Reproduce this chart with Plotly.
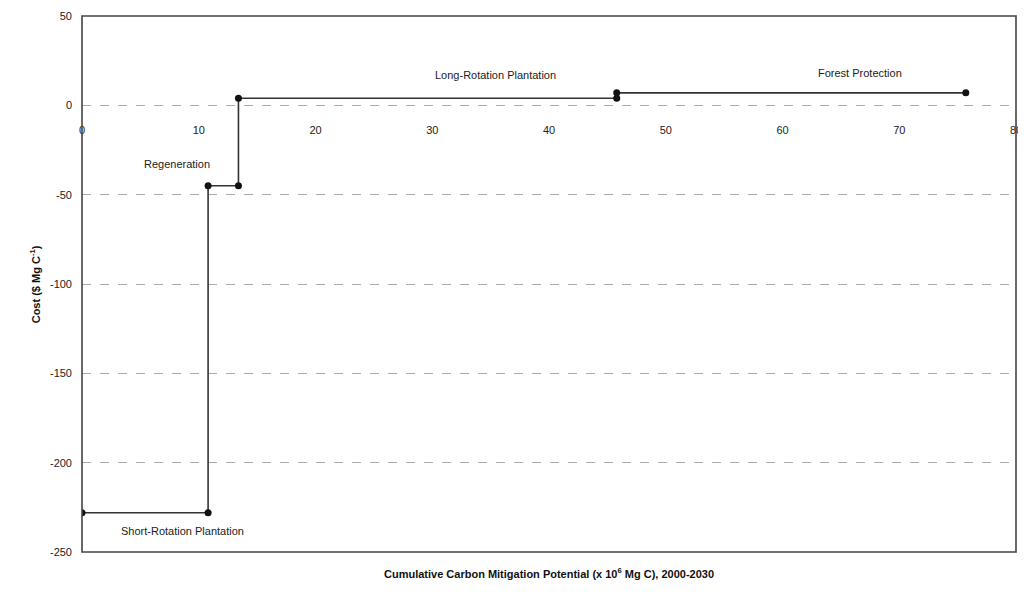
import plotly.graph_objects as go

# Step-curve vertices (cumulative potential, cost)
cum_potential = [0, 10.8, 10.8, 13.4, 13.4, 45.8, 45.8, 75.7]
cost = [-228, -228, -45, -45, 4, 4, 7, 7]

# Option labels and their positions
option_labels = ["Short-Rotation Plantation", "Regeneration", "Long-Rotation Plantation", "Forest Protection"]
label_x = [8.6, 8.1, 35.4, 66.6]
label_y = [-238, -33, 17, 18]

x_ticks = [0, 10, 20, 30, 40, 50, 60, 70, 80]
y_ticks = [50, 0, -50, -100, -150, -200, -250]
y_min, y_max = -250, 50

font_family = "Liberation Sans, Arial, sans-serif"

fig = go.Figure()
fig.add_trace(go.Scatter(
    x=cum_potential, y=cost, mode="lines+markers",
    line=dict(color="#333333", width=1.6),
    marker=dict(color="#111111", size=7),
    showlegend=False, hoverinfo="x+y",
))

for t, lx, ly in zip(option_labels, label_x, label_y):
    fig.add_annotation(x=lx, y=ly, text=t, showarrow=False,
                       font=dict(family=font_family, size=11, color="#222222"))

fig.add_annotation(
    xref="paper", yref="paper", x=0.5, y=-0.039, yanchor="middle",
    text="<b>Cumulative Carbon Mitigation Potential (x 10<sup>6</sup> Mg C), 2000-2030</b>",
    showarrow=False, font=dict(family=font_family, size=11, color="#111111"))

fig.add_annotation(
    xref="paper", yref="paper", x=-0.05, y=0.5, xanchor="center", yanchor="middle",
    textangle=-90,
    text="<b>Cost ($ Mg C<sup>-1</sup>)</b>",
    showarrow=False, font=dict(family=font_family, size=11, color="#111111"))

# frame around plot area
fig.add_shape(type="rect", xref="paper", yref="paper", x0=0, x1=1, y0=0, y1=1,
              line=dict(color="#444444", width=1.6), layer="above")

fig.update_layout(
    width=1018, height=579,
    margin=dict(l=74, r=10, t=8, b=35, autoexpand=False),
    paper_bgcolor="white", plot_bgcolor="white",
    font=dict(family=font_family, size=11, color="#222222"),
    xaxis=dict(
        range=[0, 80], tickvals=x_ticks, ticktext=[str(v) for v in x_ticks],
        anchor="free", position=(0 - y_min) / (y_max - y_min),
        showgrid=False, zeroline=False, showline=False, automargin=False,
        ticks="", ticklabelstandoff=17, ticklabeloverflow="allow",
        tickfont=dict(family=font_family, size=11, color="#222222"),
    ),
    yaxis=dict(
        range=[y_min, y_max], tickvals=y_ticks, ticktext=[str(v) for v in y_ticks],
        showgrid=True, gridcolor="#aaaaaa", griddash="dash", gridwidth=1,
        zeroline=False, showline=False, ticks="", automargin=False,
        ticklabelstandoff=9, ticklabeloverflow="allow",
        tickfont=dict(family=font_family, size=11, color="#222222"),
    ),
)

fig.write_html("out.html")
